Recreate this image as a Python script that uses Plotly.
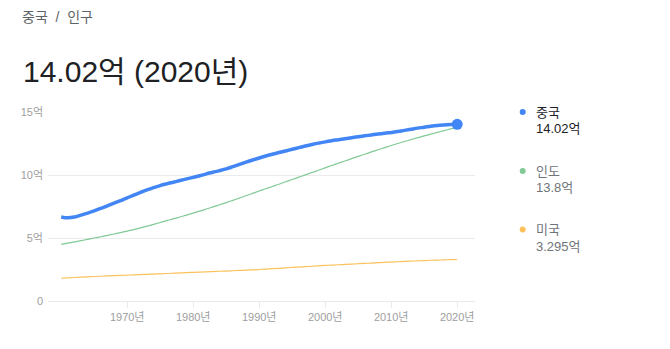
import plotly.graph_objects as go

years = list(range(1960, 2021))

china = [6.67, 6.60, 6.66, 6.82, 6.98, 7.15, 7.35, 7.55, 7.76, 7.97,
         8.18, 8.41, 8.62, 8.82, 9.00, 9.16, 9.30, 9.43, 9.56, 9.69,
         9.81, 9.94, 10.09, 10.22, 10.35, 10.49, 10.66, 10.84, 11.02, 11.19,
         11.35, 11.51, 11.65, 11.78, 11.91, 12.04, 12.17, 12.30, 12.42, 12.53,
         12.63, 12.72, 12.80, 12.88, 12.96, 13.04, 13.11, 13.18, 13.25, 13.31,
         13.38, 13.45, 13.54, 13.63, 13.72, 13.79, 13.87, 13.93, 13.97, 14.00,
         14.02]

india = [4.50, 4.59, 4.69, 4.79, 4.89, 5.00, 5.10, 5.21, 5.32, 5.43,
         5.55, 5.67, 5.80, 5.94, 6.08, 6.23, 6.38, 6.52, 6.67, 6.82,
         6.97, 7.13, 7.30, 7.47, 7.64, 7.81, 7.99, 8.17, 8.35, 8.54,
         8.73, 8.91, 9.09, 9.27, 9.46, 9.64, 9.83, 10.01, 10.20, 10.38,
         10.57, 10.75, 10.93, 11.11, 11.30, 11.48, 11.65, 11.83, 12.00, 12.17,
         12.34, 12.50, 12.66, 12.81, 12.96, 13.10, 13.24, 13.38, 13.52, 13.66,
         13.80]

usa = [1.807, 1.837, 1.866, 1.893, 1.919, 1.943, 1.966, 1.987, 2.007, 2.027,
       2.051, 2.076, 2.097, 2.117, 2.137, 2.160, 2.182, 2.205, 2.229, 2.253,
       2.272, 2.294, 2.317, 2.339, 2.360, 2.378, 2.402, 2.425, 2.448, 2.472,
       2.500, 2.530, 2.562, 2.594, 2.627, 2.663, 2.694, 2.726, 2.758, 2.791,
       2.822, 2.850, 2.878, 2.903, 2.929, 2.957, 2.984, 3.012, 3.041, 3.069,
       3.093, 3.116, 3.139, 3.161, 3.185, 3.211, 3.233, 3.250, 3.263, 3.283,
       3.295]

series_names = ["중국", "인도", "미국"]
series_labels = ["14.02억", "13.8억", "3.295억"]
colors = ["#4285f4", "#81c995", "#fbc25c"]

y_ticks = [0, 5, 10, 15]
y_tick_text = ["0", "5억", "10억", "15억"]
x_ticks = [1970, 1980, 1990, 2000, 2010, 2020]
x_tick_text = [f"{y}년" for y in x_ticks]

FONT = "Liberation Sans, Arial, Noto Sans CJK KR, sans-serif"
W, H = 670, 349
L, R, T, B = 48, 475, 112, 301


def px(x):
    return (x - L) / (R - L)


def py(y):
    return (B - y) / (B - T)


fig = go.Figure()

fig.add_trace(go.Scatter(x=years, y=usa, mode="lines",
                         line=dict(color=colors[2], width=1.2, shape="spline"),
                         hoverinfo="skip"))
fig.add_trace(go.Scatter(x=years, y=india, mode="lines",
                         line=dict(color=colors[1], width=1.2, shape="spline"),
                         hoverinfo="skip"))
fig.add_trace(go.Scatter(x=years, y=china, mode="lines",
                         line=dict(color=colors[0], width=3.5, shape="spline"),
                         hoverinfo="skip"))
fig.add_trace(go.Scatter(x=[years[-1]], y=[china[-1]], mode="markers",
                         marker=dict(color=colors[0], size=11),
                         cliponaxis=False, hoverinfo="skip"))

annotations = [
    dict(text="중국\u00a0\u00a0/\u00a0\u00a0인구", x=px(20), y=py(17), xanchor="left", yanchor="middle",
         font=dict(size=14, color="#5f6368")),
    dict(text="14.02억 (2020년)", x=px(21), y=py(71), xanchor="left", yanchor="middle",
         font=dict(size=30, color="#202124")),
]

legend_rows = [112, 171, 229.5]
for i, (name, lab) in enumerate(zip(series_names, series_labels)):
    yc = legend_rows[i]
    col = "#202124" if i == 0 else "#70757a"
    annotations.append(dict(text=name, x=px(534), y=py(yc), xanchor="left", yanchor="middle",
                            font=dict(size=13, color=col)))
    annotations.append(dict(text=lab, x=px(534), y=py(yc + 16.5), xanchor="left", yanchor="middle",
                            font=dict(size=13, color=col)))

for a in annotations:
    a.update(xref="paper", yref="paper", showarrow=False)
    a["font"]["family"] = FONT

shapes = []
for i, yc in enumerate(legend_rows):
    shapes.append(dict(type="circle", xref="paper", yref="paper",
                       x0=px(519.7), x1=px(525.7), y0=py(yc + 3), y1=py(yc - 3),
                       fillcolor=colors[i], line=dict(width=0)))

fig.update_layout(
    width=W, height=H,
    margin=dict(l=L, r=W - R, t=T, b=H - B, pad=0),
    paper_bgcolor="white", plot_bgcolor="white",
    showlegend=False,
    font=dict(family=FONT, size=11, color="#9e9e9e"),
    annotations=annotations,
    shapes=shapes,
    xaxis=dict(range=[1958.0, 2022.7], tickvals=x_ticks, ticktext=x_tick_text,
               showgrid=False, zeroline=False, showline=True, linecolor="#e8eaed",
               ticks="outside", ticklen=6, tickcolor="#e8eaed",
               tickfont=dict(size=11, color="#9e9e9e"), fixedrange=True),
    yaxis=dict(range=[0, 15], tickvals=y_ticks, ticktext=y_tick_text,
               showgrid=True, gridcolor="#ebebeb", zeroline=False,
               ticks="", ticklabelstandoff=4,
               tickfont=dict(size=11, color="#9e9e9e"), fixedrange=True),
)

fig.write_html("out.html")
